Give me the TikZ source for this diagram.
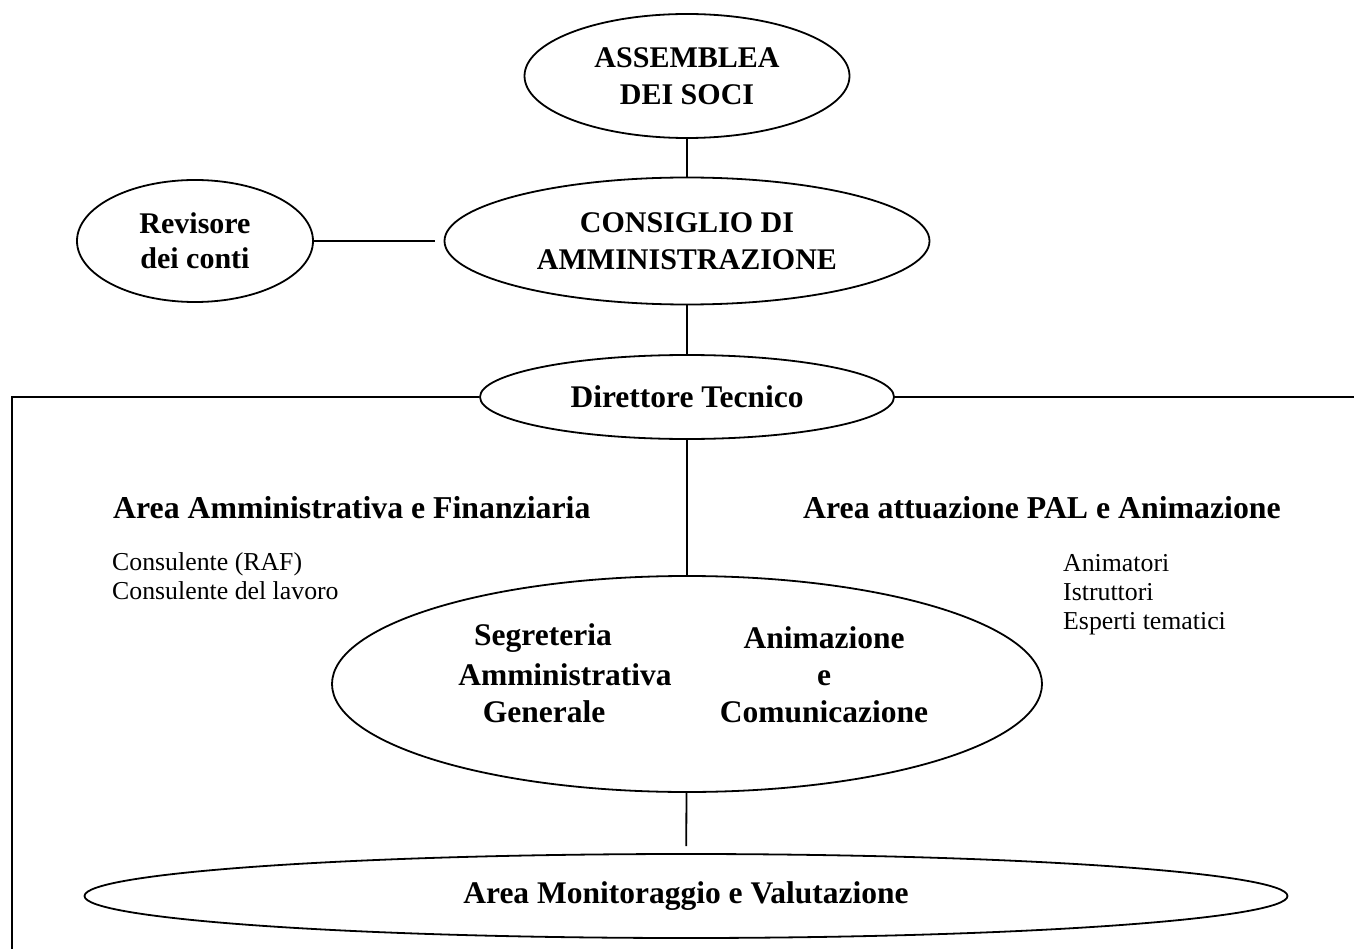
\documentclass[tikz,border=0pt]{standalone}
\usepackage{fontspec}
\setmainfont{Liberation Serif}
\usetikzlibrary{shapes.geometric}
\tikzset{
  oval/.style={draw, ellipse, line width=1.8pt, inner sep=0pt, align=center,
    font=\bfseries\fontsize{30}{37}\selectfont},
  boldlbl/.style={inner sep=0pt, font=\bfseries\fontsize{31.8}{37}\selectfont},
  innerlbl/.style={inner sep=0pt, align=center, font=\bfseries\fontsize{31.5}{37}\selectfont},
  smalllbl/.style={inner sep=0pt, align=left, font=\fontsize{25.8}{29}\selectfont},
  conn/.style={line width=1.8pt}
}
\begin{document}
\begin{tikzpicture}[x=1pt, y=-1pt]
\useasboundingbox (0,0) rectangle (1354,949);
% ovals
\node[oval, minimum width=325pt, minimum height=124pt] (ass) at (687,76) {ASSEMBLEA\\DEI SOCI};
\node[oval, minimum width=485pt, minimum height=127pt] (cda) at (687,241) {CONSIGLIO DI\\AMMINISTRAZIONE};
\node[oval, minimum width=236pt, minimum height=122pt, font=\bfseries\fontsize{30}{35}\selectfont] (rev) at (195,241) {Revisore\\dei conti};
\node[oval, minimum width=414pt, minimum height=84pt, font=\bfseries\fontsize{31.5}{37}\selectfont] (dir) at (687,397) {Direttore Tecnico};
\node[oval, minimum width=710pt, minimum height=216pt] (central) at (687,684) {};
\node[oval, minimum width=1203pt, minimum height=84pt, font=\bfseries\fontsize{31.5}{37}\selectfont] (mon) at (686,896) {Area Monitoraggio e Valutazione};
% inner texts of central oval
\node[innerlbl] (seg1) at (543,638) {Segreteria};
\node[innerlbl] (seg2) at (565,675) {Amministrativa};
\node[innerlbl] (seg3) at (544,712) {Generale};
\node[innerlbl] (animcol) at (824,675) {Animazione\\e\\Comunicazione};
% area labels
\node[boldlbl, anchor=west] (areaamm) at (113,508) {Area Amministrativa e Finanziaria};
\node[boldlbl, anchor=west] (areapal) at (803,508) {Area attuazione PAL e Animazione};
\node[smalllbl, anchor=north west] (cons) at (112,552) {Consulente (RAF)\\Consulente del lavoro};
\node[smalllbl, anchor=north west] (anim) at (1063,554) {Animatori\\Istruttori\\Esperti tematici};
% free ends
\coordinate (lc) at (12,397);
\coordinate (lb) at (12,949);
\coordinate (rc) at (1354,397);
% connectors
\draw[conn] (ass) -- (cda);
\draw[conn, shorten >=9pt] (rev) -- (cda);
\draw[conn] (cda) -- (dir);
\draw[conn] (dir) -- (central);
\draw[conn, shorten >=7pt] (central) -- (mon);
\draw[conn] (dir.west) -- (lc) -- (lb);
\draw[conn] (dir.east) -- (rc);
\end{tikzpicture}
\end{document}
